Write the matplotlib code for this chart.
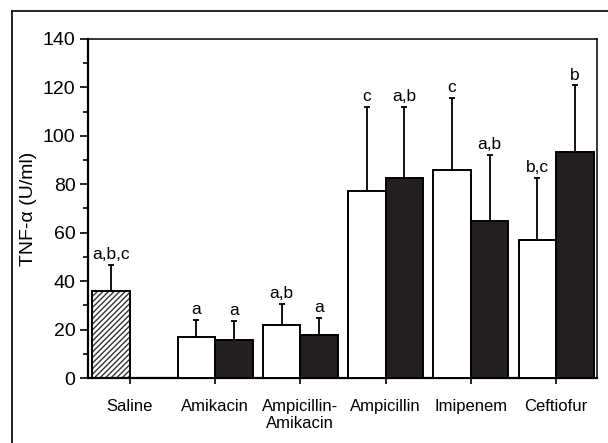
import matplotlib.pyplot as plt
import numpy as np
from matplotlib.lines import Line2D

plt.rcParams['font.family'] = ['Liberation Sans', 'DejaVu Sans']

# data
groups = ['Saline', 'Amikacin', 'Ampicillin-\nAmikacin', 'Ampicillin', 'Imipenem', 'Ceftiofur']
saline_mean = 35.9
saline_err = 10.7
saline_lab = 'a,b,c'

white_mean = [16.8, 21.9, 77.2, 86.1, 56.8]
white_err = [7.1, 8.6, 34.7, 29.5, 26.0]
white_lab = ['a', 'a,b', 'c', 'c', 'b,c']

black_mean = [15.5, 17.6, 82.5, 64.9, 93.2]
black_err = [8.0, 7.3, 29.4, 27.3, 27.6]
black_lab = ['a', 'a', 'a,b', 'a,b', 'b']

x = np.arange(len(groups))
w = 0.44
lw = 1.4

fig = plt.figure(figsize=(6.08, 4.43), dpi=100)
ax = fig.add_axes([0.1447, 0.1467, 0.8373, 0.7653])

# outer frame of the figure
fig.add_artist(Line2D([12/608, 1], [1 - 11/443] * 2, transform=fig.transFigure, color='black', lw=1.2))
fig.add_artist(Line2D([12/608] * 2, [0, 1 - 11/443], transform=fig.transFigure, color='black', lw=1.2))

# saline bar (hatched)
ax.bar(x[0] - w/2, saline_mean, w, color='white', edgecolor='#333333', hatch='//////', linewidth=0, zorder=2)
ax.bar(x[0] - w/2, saline_mean, w, color='none', edgecolor='black', linewidth=lw, zorder=3)
ax.errorbar(x[0] - w/2, saline_mean, yerr=[[0], [saline_err]], fmt='none', ecolor='black',
            elinewidth=1.3, capsize=2.5, capthick=1.3, zorder=1)
ax.text(x[0] - w/2, saline_mean + saline_err + 1.2, saline_lab, ha='center', va='bottom', fontsize=12.5)

xw = x[1:] - w/2
xb = x[1:] + w/2
ax.bar(xw, white_mean, w, color='white', edgecolor='black', linewidth=lw, zorder=3)
ax.bar(xb, black_mean, w, color='#231f20', edgecolor='black', linewidth=lw, zorder=3)
ax.errorbar(xw, white_mean, yerr=[np.zeros(5), white_err], fmt='none', ecolor='black',
            elinewidth=1.3, capsize=2.5, capthick=1.3, zorder=1)
ax.errorbar(xb, black_mean, yerr=[np.zeros(5), black_err], fmt='none', ecolor='black',
            elinewidth=1.3, capsize=2.5, capthick=1.3, zorder=1)
for xi, m, e, t in zip(xw, white_mean, white_err, white_lab):
    ax.text(xi, m + e + 1.2, t, ha='center', va='bottom', fontsize=12.5)
for xi, m, e, t in zip(xb, black_mean, black_err, black_lab):
    ax.text(xi, m + e + 1.2, t, ha='center', va='bottom', fontsize=12.5)

ax.set_xlim(-0.49, 5.48)
ax.set_ylim(0, 140)
ax.set_yticks(np.arange(0, 141, 20))
ax.set_yticks(np.arange(0, 141, 10), minor=True)
ax.set_xticks(x)
ax.set_xticklabels(groups, fontsize=12, linespacing=1.15, va='top')
ax.tick_params(axis='y', which='major', direction='out', length=6, width=1.2, labelsize=14, pad=3)
ax.tick_params(axis='y', which='minor', direction='out', length=3.5, width=1.2)
ax.tick_params(axis='x', direction='out', length=4, width=1.2, pad=11)
ax.set_ylabel('TNF-α (U/ml)', fontsize=14, labelpad=4)

for s in ['left', 'bottom']:
    ax.spines[s].set_linewidth(1.6)
for s in ['top', 'right']:
    ax.spines[s].set_linewidth(1.1)

fig.savefig('out.png', dpi=100)
